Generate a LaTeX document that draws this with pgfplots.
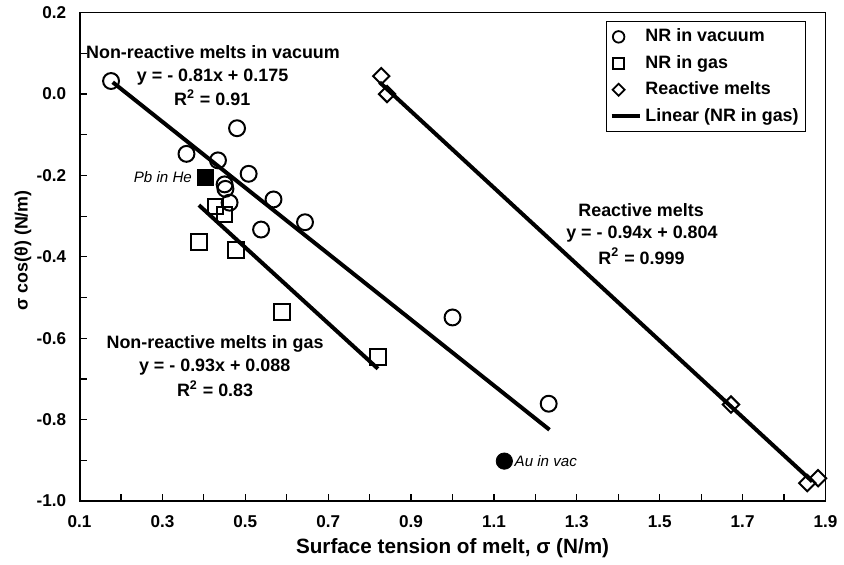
\documentclass[border=0pt]{standalone}
\usepackage{fontspec}
\setmainfont{Liberation Sans}
\usepackage{pgfplots}
\pgfplotsset{compat=1.18}

\newcommand{\annfont}{\fontsize{9bp}{11bp}\selectfont\bfseries}
\newcommand{\tickfont}{\fontsize{8.6bp}{10bp}\selectfont\bfseries}

\begin{document}
\begin{tikzpicture}
\begin{axis}[
  scale only axis, width=375bp, height=245.5bp,
  xmin=0.1, xmax=1.9, ymin=-1, ymax=0.2,
  xtick={0.1,0.3,0.5,0.7,0.9,1.1,1.3,1.5,1.7,1.9},
  minor xtick={0.2,0.4,0.6,0.8,1.0,1.2,1.4,1.6,1.8},
  ytick={-1,-0.8,-0.6,-0.4,-0.2,0,0.2},
  minor ytick={-0.9,-0.7,-0.5,-0.3,-0.1,0.1},
  tick pos=left, tick align=inside,
  major tick length=3.5bp, minor tick length=3.5bp,
  tick style={black, line width=0.6bp},
  axis line style={line width=0.5bp},
  xticklabel style={font=\tickfont, yshift=-4bp},
  yticklabel style={font=\tickfont, xshift=-3.2bp},
  /pgf/number format/fixed, /pgf/number format/fixed zerofill,
  /pgf/number format/precision=1, /pgf/number format/assume math mode=true,
  legend style={at={(rel axis cs:0.974,0.982)}, anchor=north east,
    draw=black, line width=0.5bp, font=\annfont, inner xsep=1.5bp, inner ysep=1.5bp,
    row sep=1.3bp, cells={anchor=west}},
  clip=false,
]
% legend entries
\addlegendimage{legend image code/.code={\path (0bp,0bp) (13bp,0bp);
  \draw[line width=0.9bp] (3.5bp,0bp) circle[radius=2.9bp];}}
\addlegendentry{NR in vacuum}
\addlegendimage{legend image code/.code={\path (0bp,0bp) (13bp,0bp);
  \draw[line width=0.9bp] (0.7bp,-2.8bp) rectangle (6.3bp,2.8bp);}}
\addlegendentry{NR in gas}
\addlegendimage{legend image code/.code={\path (0bp,0bp) (13bp,0bp);
  \draw[line width=0.9bp] (0.5bp,0bp) -- (3.5bp,3bp) -- (6.5bp,0bp) -- (3.5bp,-3bp) -- cycle;}}
\addlegendentry{Reactive melts}
\addlegendimage{legend image code/.code={\draw[line width=2bp] (0bp,0bp) -- (14bp,0bp);}}
\addlegendentry{Linear (NR in gas)}

% fitted lines
\addplot[forget plot, black, line width=2bp] coordinates {(0.18,0.029) (1.234,-0.825)};
\addplot[forget plot, black, line width=2bp] coordinates {(0.388,-0.273) (0.82,-0.675)};
\addplot[forget plot, black, line width=2bp] coordinates {(0.824,0.029) (1.868,-0.952)};

% NR in vacuum
\addplot[forget plot, only marks, mark=o, mark size=4bp, mark options={line width=1bp, black}]
  coordinates {(0.176,0.032) (0.480,-0.084) (0.358,-0.147) (0.434,-0.163) (0.508,-0.196)
    (0.450,-0.222) (0.452,-0.233) (0.462,-0.267) (0.568,-0.259) (0.644,-0.315)
    (0.538,-0.333) (1.000,-0.549) (1.232,-0.761)};
% NR in gas
\addplot[forget plot, only marks, mark=square, mark size=3.9bp, mark options={line width=1bp, black}]
  coordinates {(0.428,-0.276) (0.450,-0.296) (0.388,-0.363) (0.478,-0.383)
    (0.588,-0.536) (0.820,-0.646)};
% reactive melts
\addplot[forget plot, only marks, mark=square, mark size=2.9bp,
  mark options={line width=1bp, black, rotate=45}]
  coordinates {(0.828,0.044) (0.842,0.000) (1.672,-0.763) (1.856,-0.956) (1.882,-0.944)};
% highlighted points
\addplot[forget plot, only marks, mark=square*, mark size=3.9bp, mark options={black}]
  coordinates {(0.404,-0.205)};
\addplot[forget plot, only marks, mark=*, mark size=4.1bp, mark options={black}]
  coordinates {(1.125,-0.902)};

% annotations
\node[font=\annfont, anchor=base] at (axis cs:0.422,0.0875) {Non-reactive melts in vacuum};
\node[font=\annfont, anchor=base] at (axis cs:0.421,0.030) {y = - 0.81x + 0.175};
\node[font=\annfont, anchor=base] at (axis cs:0.420,-0.029) {R\textsuperscript{2} = 0.91};
\node[font=\annfont, anchor=base] at (axis cs:0.427,-0.626) {Non-reactive melts in gas};
\node[font=\annfont, anchor=base] at (axis cs:0.426,-0.683) {y = - 0.93x + 0.088};
\node[font=\annfont, anchor=base] at (axis cs:0.427,-0.744) {R\textsuperscript{2} = 0.83};
\node[font=\annfont, anchor=base] at (axis cs:1.455,-0.300) {Reactive melts};
\node[font=\annfont, anchor=base] at (axis cs:1.457,-0.355) {y = - 0.94x + 0.804};
\node[font=\annfont, anchor=base] at (axis cs:1.456,-0.418) {R\textsuperscript{2} = 0.999};
\node[font=\fontsize{7.6bp}{9bp}\selectfont\itshape, anchor=base east, inner sep=0pt]
  at (axis cs:0.372,-0.217) {Pb in He};
\node[font=\fontsize{7.6bp}{9bp}\selectfont\itshape, anchor=base west, inner sep=0pt]
  at (axis cs:1.149,-0.915) {Au in vac};
\end{axis}
% heavier left and bottom axis lines
\draw[line width=1bp] (0bp,245.5bp) -- (0bp,0bp) -- (375bp,0bp);
% axis titles
\node[font=\fontsize{10.4bp}{12bp}\selectfont\bfseries, anchor=base] at (187.5bp,-26.5bp)
  {Surface tension of melt, σ (N/m)};
\node[font=\fontsize{9bp}{11bp}\selectfont\bfseries, rotate=90, anchor=center] at (-28.5bp,126bp)
  {σ cos(θ) (N/m)};
\path[use as bounding box] (-40bp,-30.5bp) rectangle (382bp,251.5bp);
\end{tikzpicture}
\end{document}
